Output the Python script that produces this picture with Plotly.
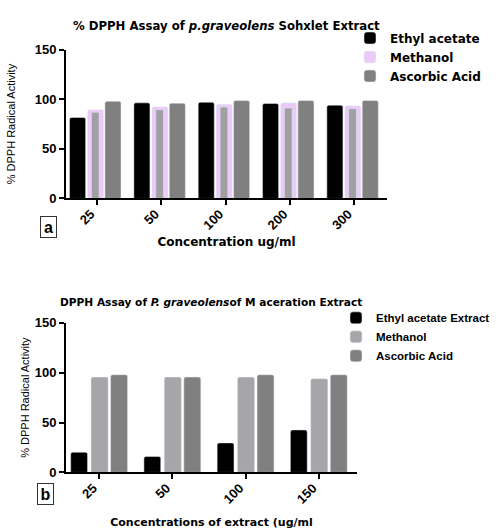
import plotly.graph_objects as go

# ---- Panel a data (Soxhlet extract) ----
cats_a = ["25", "50", "100", "200", "300"]
ethyl_a = [81.7, 96.4, 97.0, 95.8, 94.1]
methanol_a = [89.5, 92.5, 95.1, 96.4, 93.5]
methanol_inner_a = [86.9, 89.5, 92.2, 91.2, 90.5]
ascorbic_a = [98.0, 96.1, 98.7, 98.7, 98.7]

# ---- Panel b data (Maceration extract) ----
cats_b = ["25", "50", "100", "150"]
ethyl_b = [20.2, 15.9, 29.6, 42.6]
methanol_b = [95.6, 95.6, 95.6, 94.0]
ascorbic_b = [97.9, 95.6, 97.9, 97.9]

FONT = "Liberation Sans, Arial, sans-serif"
WIDE = "DejaVu Sans, Verdana, sans-serif"
BLACK = "#000000"
PINK = "#EACBF6"
LGRAY = "#A0A0A4"
DGRAY = "#808080"

fig = go.Figure()

# Panel a bars
fig.add_trace(go.Bar(x=cats_a, y=ethyl_a, name="Ethyl acetate", marker_color=BLACK,
                     offset=-0.425, width=0.25, xaxis="x", yaxis="y", legend="legend",
                     marker_cornerradius=2))
fig.add_trace(go.Bar(x=cats_a, y=methanol_a, name="Methanol", marker_color=PINK,
                     offset=-0.145, width=0.25, xaxis="x", yaxis="y", legend="legend",
                     marker_cornerradius=2))
fig.add_trace(go.Bar(x=cats_a, y=methanol_inner_a, name="Methanol", marker_color=LGRAY,
                     offset=-0.085, width=0.12, xaxis="x", yaxis="y", showlegend=False))
fig.add_trace(go.Bar(x=cats_a, y=ascorbic_a, name="Ascorbic Acid", marker_color=DGRAY,
                     offset=0.125, width=0.25, xaxis="x", yaxis="y", legend="legend",
                     marker_cornerradius=2))

# Panel b bars
fig.add_trace(go.Bar(x=cats_b, y=ethyl_b, name="Ethyl acetate Extract", marker_color=BLACK,
                     offset=-0.39, width=0.23, xaxis="x2", yaxis="y2", legend="legend2",
                     marker_cornerradius=2))
fig.add_trace(go.Bar(x=cats_b, y=methanol_b, name="Methanol", marker_color="#A6A6A8",
                     offset=-0.113, width=0.235, xaxis="x2", yaxis="y2", legend="legend2",
                     marker_cornerradius=2))
fig.add_trace(go.Bar(x=cats_b, y=ascorbic_b, name="Ascorbic Acid", marker_color=DGRAY,
                     offset=0.155, width=0.232, xaxis="x2", yaxis="y2", legend="legend2",
                     marker_cornerradius=2))

W, H = 501, 529
def px(v): return v / W
def py(v): return 1 - v / H

axis_common = dict(showgrid=False, zeroline=False, showline=True, linecolor="black",
                   linewidth=2, ticks="outside", ticklen=5, tickwidth=2, tickcolor="black",
                   tickfont=dict(family=FONT, size=13, color="black", weight="bold"))

fig.update_layout(
    width=W, height=H,
    margin=dict(l=0, r=0, t=0, b=0),
    paper_bgcolor="white", plot_bgcolor="white",
    barmode="overlay",
    font=dict(family=FONT, color="black"),
    xaxis=dict(domain=[px(66), px(387)], anchor="y", range=[-0.48, 4.51],
               tickangle=-45, ticklabelstandoff=-4, ticklabelshift=-6,
               title=dict(text="Concentration ug/ml", standoff=6,
                          font=dict(family=WIDE, size=12, weight="bold")),
               **axis_common),
    yaxis=dict(domain=[py(197), py(44)], anchor="x", range=[0, 150],
               tickvals=[0, 50, 100, 150],
               title=dict(text="% DPPH Radical Activity", standoff=17,
                          font=dict(family=FONT, size=11)),
               **axis_common),
    xaxis2=dict(domain=[px(66), px(357)], anchor="y2", range=[-0.454, 3.52],
                tickangle=-45, ticklabelstandoff=-4, ticklabelshift=-6,
                title=dict(text="Concentrations of extract (ug/ml", standoff=13,
                           font=dict(family=WIDE, size=11, weight="bold")),
                **axis_common),
    yaxis2=dict(domain=[py(479), py(325)], anchor="x2", range=[0, 150],
                tickvals=[0, 50, 100, 150],
                title=dict(text="% DPPH Radical Activity", standoff=3,
                           font=dict(family=FONT, size=11)),
                **axis_common),
    legend=dict(x=px(350), y=py(17), xanchor="left", yanchor="top",
                font=dict(family=WIDE, size=12, weight="bold"),
                bgcolor="rgba(0,0,0,0)", traceorder="normal"),
    legend2=dict(x=px(336), y=py(305), xanchor="left", yanchor="top",
                 font=dict(family=FONT, size=11.5, weight="bold"),
                 bgcolor="rgba(0,0,0,0)", traceorder="normal"),
    annotations=[
        dict(text="% DPPH Assay of <i>p.graveolens</i> Sohxlet Extract",
             x=px(226), y=py(20), xref="paper", yref="paper", showarrow=False,
             xanchor="center", yanchor="middle",
             font=dict(family=WIDE, size=11.7, weight="bold")),
        dict(text="DPPH Assay of <i>P. graveolens</i>of M aceration Extract",
             x=px(211), y=py(304), xref="paper", yref="paper", showarrow=False,
             xanchor="center", yanchor="middle",
             font=dict(family=WIDE, size=10.6, weight="bold")),
        dict(text="a", x=px(48.5), y=py(226), xref="paper", yref="paper",
             showarrow=False, xanchor="center", yanchor="middle",
             width=13, height=18, bordercolor="#333", borderwidth=1, borderpad=1,
             font=dict(family=FONT, size=16, weight="bold")),
        dict(text="b", x=px(45.5), y=py(501), xref="paper", yref="paper",
             showarrow=False, xanchor="center", yanchor="middle",
             width=13, height=18, bordercolor="#333", borderwidth=1, borderpad=1,
             font=dict(family=FONT, size=16, weight="bold")),
    ],
)

fig.write_html("out.html", config={"displayModeBar": False},
               post_script="document.body.style.margin='0px';")
